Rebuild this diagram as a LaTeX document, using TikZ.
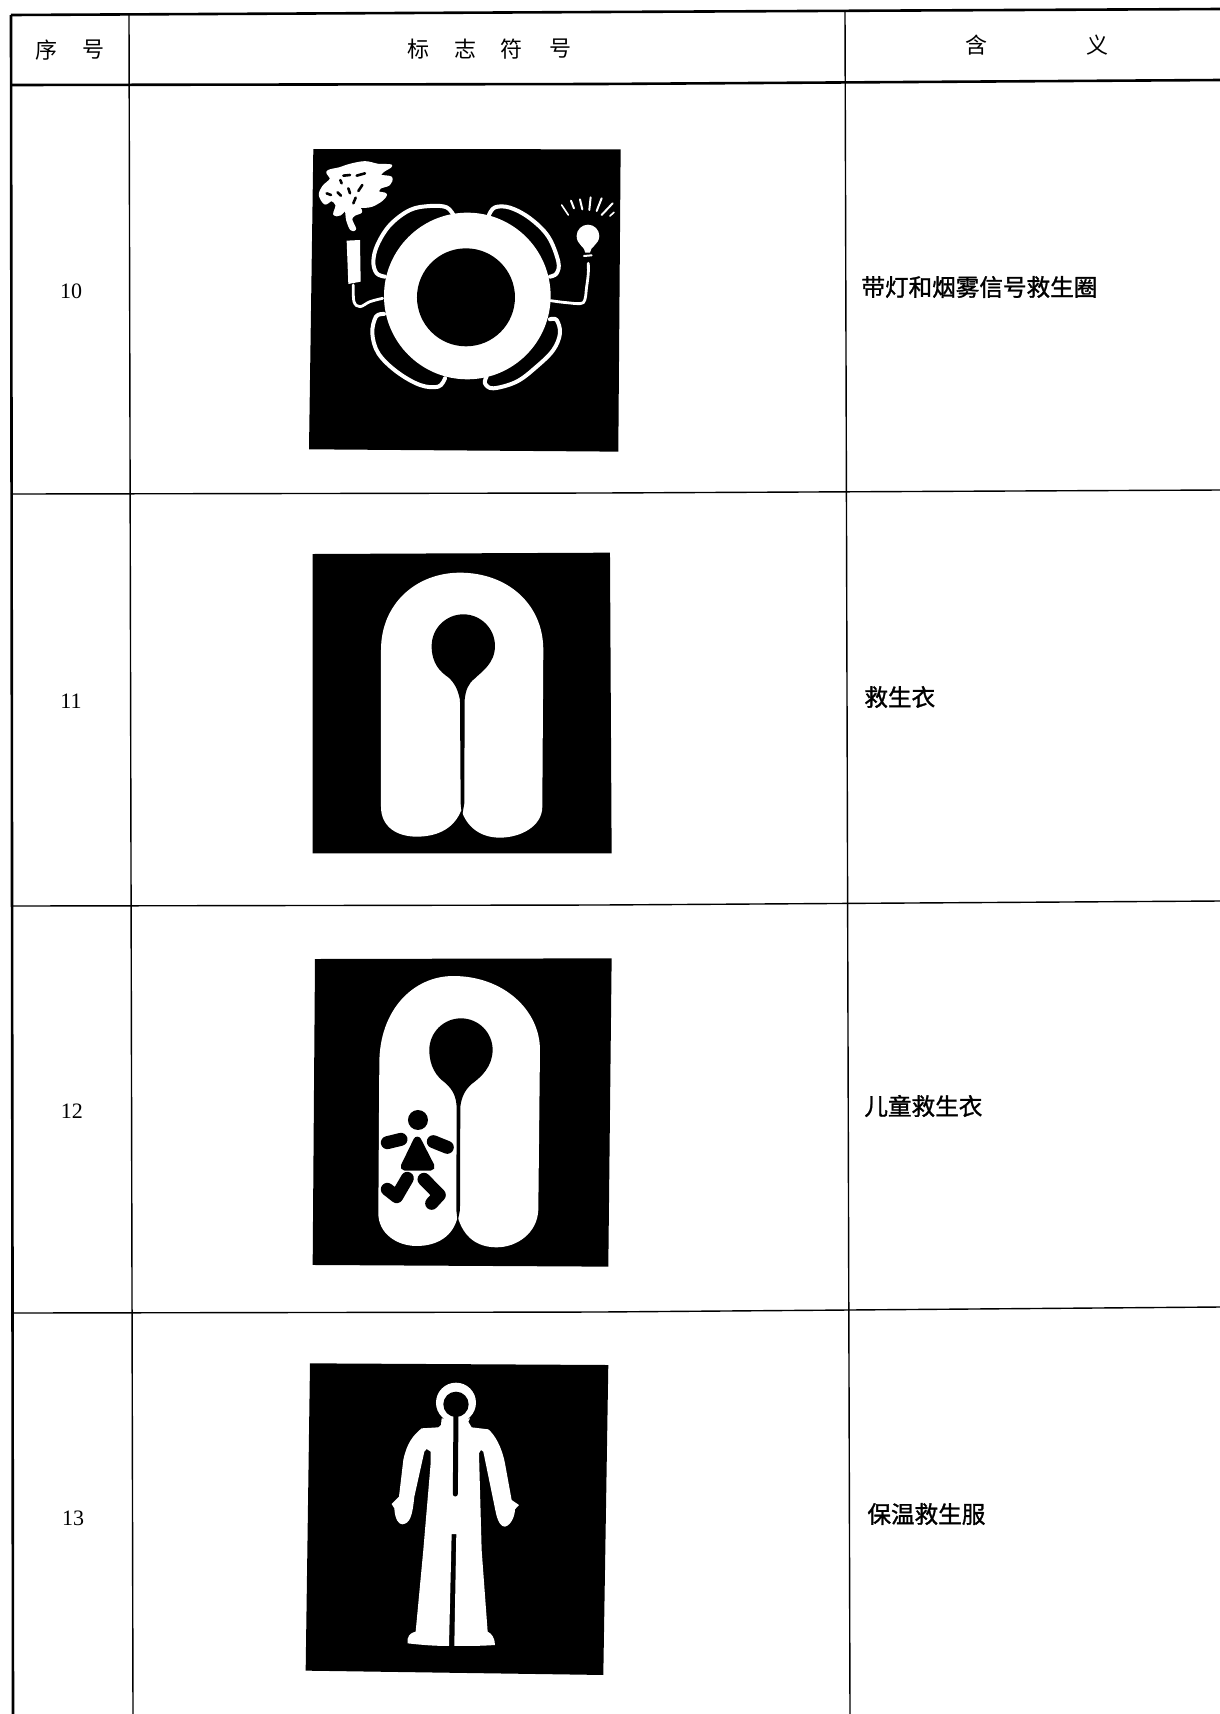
\documentclass[tikz,border=0pt]{standalone}
\usepackage{fontspec}
\newfontfamily\cjk{Noto Sans CJK SC}
\newfontfamily\cjkb[FakeBold=1.3]{Noto Sans CJK SC}
\newfontfamily\numfont{Liberation Serif}
\tikzset{
  rule/.style={line width=0.7pt,black},
  heavyrule/.style={line width=1.3pt,black},
  head/.style={font=\cjk\fontsize{11}{13}\selectfont,inner sep=0pt},
  numlabel/.style={font=\numfont\fontsize{11}{13}\selectfont,inner sep=0pt},
  mean/.style={font=\cjkb\fontsize{11.8}{14}\selectfont,inner sep=0pt,anchor=west},
  blackfill/.style={fill=black,draw=none},
  whitefill/.style={fill=white,draw=none},
  lobe/.style={draw=white,line width=2pt,line cap=round,line join=round},
  wire/.style={draw=white,line width=1.4pt,line cap=round,line join=round},
  hole/.style={draw=black,line width=1.3pt,line cap=round},
  limb/.style={draw=black,line width=6.5pt,line cap=round,line join=round}
}
\begin{document}
\begin{tikzpicture}[x=0.5pt,y=-0.5pt]
\useasboundingbox (0,0) rectangle (1220,1714);
\fill[white] (0,0) rectangle (1220,1714);
% table
\draw[heavyrule] (11,15) -- (600,12) -- (1220,9);
\draw[heavyrule] (11,85) -- (600,84) -- (1220,80);
\draw[rule] (11,494) -- (600,493) -- (1220,490);
\draw[rule] (13,906) -- (600,905) -- (1220,901);
\draw[rule] (13,1313) -- (600,1312) -- (1220,1307);
\draw[heavyrule] (11,15) -- (13,1714);
\draw[rule] (129,14) -- (133,1714);
\draw[rule] (845,11) -- (850,1714);
% header
\node[head] (h1) at (46,50) {序};
\node[head] (h2) at (94,50) {号};
\node[head] (h3) at (418,49) {标};
\node[head] (h4) at (465,49) {志};
\node[head] (h5) at (511,49) {符};
\node[head] (h6) at (560,49) {号};
\node[head] (h7) at (976,45) {含};
\node[head] (h8) at (1097,45) {义};
% numbers
\node[numlabel] (n10) at (71,291) {10};
\node[numlabel] (n11) at (71,701) {11};
\node[numlabel] (n12) at (72,1111) {12};
\node[numlabel] (n13) at (73,1518) {13};
% meanings
\node[mean] (m10) at (861,287) {带灯和烟雾信号救生圈};
\node[mean] (m11) at (864,697) {救生衣};
\node[mean] (m12) at (864,1106) {儿童救生衣};
\node[mean] (m13) at (867,1514) {保温救生服};
% symbol 10
\begin{scope}[shift={(290,130)},scale=0.3333]
\fill[blackfill] (70,57) -- (992,58) -- (985,965) -- (57,958) -- cycle;
\draw[lobe] plot[smooth,tension=.6] coordinates {(492,258) (470,232) (420,228) (360,240) (300,285) (262,345) (250,395) (260,430) (285,440)};
\draw[lobe] plot[smooth,tension=.6] coordinates {(597,255) (615,232) (660,233) (720,265) (775,320) (805,395) (800,430) (780,440)};
\draw[lobe] plot[smooth,tension=.6] coordinates {(282,552) (258,560) (247,610) (265,670) (320,725) (390,765) (445,770) (465,745)};
\draw[lobe] plot[smooth,tension=.6] coordinates {(780,568) (800,570) (810,610) (790,660) (740,710) (680,755) (610,775) (585,760) (590,740)};
\fill[whitefill] (532,498) circle (250);
\fill[blackfill] (528,502) circle (147);
\draw[wire] plot[smooth,tension=.6] coordinates {(278,505) (240,515) (210,530) (192,515) (190,465)};
\fill[whitefill] (170,332) -- (210,330) -- (212,455) -- (175,462) -- cycle;
\draw[wire] plot[smooth,tension=.5] coordinates {(782,512) (830,518) (880,518) (890,470) (895,430) (895,400)};
\fill[whitefill] (860,318) arc (180:360:34) .. controls (927,345) and (900,350) .. (900,368) -- (886,368) .. controls (886,350) and (860,345) .. (860,318) -- cycle;
\draw[wire,line width=1pt] (882,378) -- (905,376);
\draw[wire,line width=.8pt] (815,225) -- (835,255);
\draw[wire,line width=1pt] (843,212) -- (852,235);
\draw[wire,line width=1pt] (870,208) -- (877,238);
\draw[wire,line width=1pt] (902,202) -- (898,240);
\draw[wire,line width=1pt] (935,205) -- (920,243);
\draw[wire,line width=1pt] (968,220) -- (935,255);
\draw[wire,line width=.8pt] (972,247) -- (960,258);
\end{scope}
% smoke
\begin{scope}[shift={(315,155)},scale=0.3333]
\path[fill=white,draw=white,line width=1.2pt,line join=round] plot[smooth cycle,tension=.55] coordinates {(38,50) (75,40) (105,30) (150,22) (190,30) (228,32) (205,48) (195,62) (228,68) (222,88) (195,98) (190,112) (212,118) (200,135) (170,152) (140,155) (128,150) (138,170) (120,178) (108,192) (120,222) (108,222) (97,195) (92,165) (75,178) (58,178) (65,150) (50,135) (30,145) (15,120) (25,95) (48,72)};
\draw[hole] (85,62) -- (105,60);
\draw[hole] (76,75) -- (80,85);
\draw[hole] (125,62) -- (150,55);
\draw[hole] (100,100) -- (105,115);
\draw[hole] (142,90) -- (130,108);
\draw[hole] (115,145) -- (122,128);
\draw[hole] (35,115) -- (48,120);
\draw[hole] (68,112) -- (78,122);
\end{scope}
% symbol 11
\begin{scope}[shift={(300,540)},scale=0.3333]
\fill[blackfill] (38,42) -- (930,38) -- (935,940) -- (38,940) -- cycle;
\fill[whitefill] (243,330) .. controls (243,190) and (350,98) .. (480,98) .. controls (620,98) and (730,190) .. (730,330) -- (727,800) .. controls (727,860) and (660,893) .. (600,893) .. controls (540,893) and (500,860) .. (484,810) .. controls (465,860) and (420,890) .. (350,890) .. controls (290,890) and (243,860) .. (243,800) -- cycle;
\fill[blackfill] (395,318) arc (180:360:95) .. controls (585,370) and (545,395) .. (525,415) .. controls (505,430) and (497,450) .. (494,480) -- (493,790) -- (486,830) -- (482,790) -- (480,480) .. controls (474,450) and (465,430) .. (445,412) .. controls (420,395) and (395,370) .. (395,318) -- cycle;
\end{scope}
% symbol 12
\begin{scope}[shift={(300,950)},scale=0.3333]
\fill[blackfill] (45,27) -- (935,25) -- (925,950) -- (38,945) -- cycle;
\fill[whitefill] (238,340) .. controls (238,180) and (340,78) .. (460,78) .. controls (610,78) and (720,180) .. (720,300) -- (715,780) .. controls (712,850) and (650,892) .. (590,892) .. controls (530,892) and (490,860) .. (473,800) .. controls (460,860) and (410,888) .. (350,888) .. controls (290,888) and (235,850) .. (235,790) -- cycle;
\fill[blackfill] (388,300) arc (180:360:95) .. controls (577,350) and (545,380) .. (515,402) .. controls (495,420) and (485,440) .. (481,470) -- (480,780) -- (473,815) -- (469,780) -- (470,470) .. controls (468,440) and (460,420) .. (435,398) .. controls (410,380) and (388,350) .. (388,300) -- cycle;
\fill[blackfill] (354,510) circle (30);
\draw[fill=black,draw=black,line width=4pt,line join=round] (352,572) -- (314,650) -- (392,650) -- cycle;
\draw[limb] (262,578) -- (303,568);
\draw[limb] (400,575) -- (442,592);
\draw[limb] (322,685) -- (290,740) -- (262,718);
\draw[limb] (372,688) -- (418,735) -- (395,760);
\end{scope}
% symbol 13
\begin{scope}[shift={(295,1350)},scale=0.3333]
\fill[blackfill] (45,40) -- (940,45) -- (925,975) -- (32,962) -- cycle;
\fill[whitefill] (483,158) circle (60);
\fill[whitefill] (440,205) -- (438,225) -- (430,232) -- (380,235) .. controls (355,255) and (335,280) .. (325,330) -- (312,440) -- (290,462) -- (298,475) .. controls (300,510) and (312,523) .. (322,523) .. controls (345,520) and (352,500) .. (358,440) -- (388,305) -- (395,297) -- (407,305) -- (407,340) -- (385,600) -- (362,845) .. controls (345,848) and (335,860) .. (338,880) .. controls (380,885) and (420,888) .. (462,888) -- (470,552) -- (484,552) -- (478,888) .. controls (520,888) and (560,888) .. (600,885) .. controls (600,865) and (590,850) .. (578,845) -- (560,600) -- (552,310) -- (558,300) -- (565,305) -- (603,490) .. controls (610,520) and (620,530) .. (630,530) .. controls (650,525) and (660,495) .. (660,478) -- (672,465) -- (650,450) -- (630,340) .. controls (620,290) and (600,255) .. (580,238) -- (530,232) -- (520,215) -- (525,205) -- cycle;
\fill[blackfill] (483,163) circle (38);
\draw[draw=black,line width=2.5pt,line cap=round] (483,190) -- (481,432);
\end{scope}
\end{tikzpicture}
\end{document}
